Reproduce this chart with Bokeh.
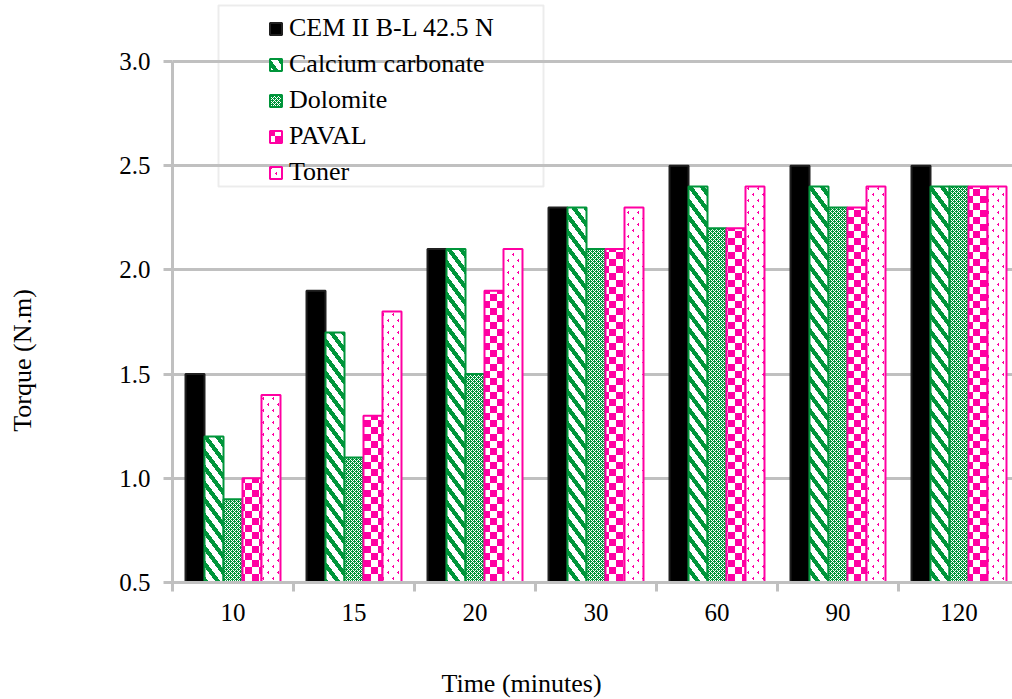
import base64
import struct
import zlib
import numpy as np
from bokeh.plotting import figure
from bokeh.models import (Range1d, FixedTicker, PrintfTickFormatter, Legend, LegendItem,
                          Label, BoxAnnotation, ImageURLTexture, Grid)
from bokeh.core.properties import value
from bokeh.embed import file_html
from bokeh.resources import INLINE

# ---- data ----
times = ["10", "15", "20", "30", "60", "90", "120"]
cem = [1.5, 1.9, 2.1, 2.3, 2.5, 2.5, 2.5]
calcium = [1.2, 1.7, 2.1, 2.3, 2.4, 2.4, 2.4]
dolomite = [0.9, 1.1, 1.5, 2.1, 2.2, 2.3, 2.4]
paval = [1.0, 1.3, 1.9, 2.1, 2.2, 2.3, 2.4]
toner = [1.4, 1.8, 2.1, 2.3, 2.4, 2.4, 2.4]
series_names = ["CEM II B-L 42.5 N", "Calcium carbonate", "Dolomite", "PAVAL", "Toner"]
series_values = [cem, calcium, dolomite, paval, toner]
y_ticks = [0.5, 1.0, 1.5, 2.0, 2.5, 3.0]

GREEN = "#00953a"
MAGENTA = "#ff00a2"
GRID = "#c0c0c0"
FONT = "Liberation Serif"


def png_url(rows):
    """rows: list of lists of (r, g, b) tuples -> data URL of an RGB PNG tile"""
    h, w = len(rows), len(rows[0])
    raw = b"".join(b"\x00" + bytes([c for px in row for c in px]) for row in rows)

    def chunk(t, d):
        return struct.pack(">I", len(d)) + t + d + struct.pack(">I", zlib.crc32(t + d) & 0xFFFFFFFF)

    png = (b"\x89PNG\r\n\x1a\n" + chunk(b"IHDR", struct.pack(">IIBBBBB", w, h, 8, 2, 0, 0, 0))
           + chunk(b"IDAT", zlib.compress(raw)) + chunk(b"IEND", b""))
    return "data:image/png;base64," + base64.b64encode(png).decode()


WH = (255, 255, 255)
MG = (255, 0, 162)
GR = (0, 149, 58)

# pattern tiles (texture only, not data)
stripe_tile = [[GR if (i - round(j * 16 / 12)) % 16 < 7 else WH for j in range(12)] for i in range(16)]
small_tile = [[GR if (i + j) % 2 == 0 else WH for j in range(4)] for i in range(4)]
small_tile[1][2] = GR
small_tile[3][0] = GR
checker_tile = [[MG if ((i // 7) + (j // 7)) % 2 == 0 else WH for j in range(14)] for i in range(14)]
dot_tile = [[WH for j in range(10)] for i in range(12)]
for (i, j) in [(1, 3), (2, 2), (3, 3), (2, 3), (7, 8), (8, 7), (9, 8), (8, 8)]:
    dot_tile[i][j] = MG

tex = {
    "stripes": ImageURLTexture(url=png_url(stripe_tile)),
    "fine": ImageURLTexture(url=png_url(small_tile)),
    "checker": ImageURLTexture(url=png_url(checker_tile)),
    "dots": ImageURLTexture(url=png_url(dot_tile)),
}

styles = [
    dict(fill_color="black", line_color="#202020"),
    dict(fill_color="white", line_color=GREEN, hatch_pattern=value("stripes"),
         hatch_extra={"stripes": tex["stripes"]}),
    dict(fill_color="white", line_color=GREEN, hatch_pattern=value("fine"),
         hatch_extra={"fine": tex["fine"]}),
    dict(fill_color="white", line_color=MAGENTA, hatch_pattern=value("checker"),
         hatch_extra={"checker": tex["checker"]}),
    dict(fill_color="white", line_color=MAGENTA, hatch_pattern=value("dots"),
         hatch_extra={"dots": tex["dots"]}),
]

# ---- geometry: the frame covers the whole canvas; axes sit at fixed data locations ----
W, H = 1012, 699
PX_X = 121.0            # pixels per category
PX_Y = 521.0 / 2.5      # pixels per torque unit
LEFT, BOTTOM = 172, 117  # pixel position of the axes
x0 = -LEFT / PX_X
x1 = (W - LEFT) / PX_X
y0 = 0.5 - BOTTOM / PX_Y
y1 = 3.0 + 61 / PX_Y

p = figure(width=W, height=H, output_backend="svg", toolbar_location=None,
           x_range=Range1d(x0, x1), y_range=Range1d(y0, y1),
           min_border=0)
p.outline_line_color = None
p.background_fill_color = "white"

# horizontal grid lines, only across the plotting area
if "cross_bounds" in Grid.properties():
    p.ygrid.ticker = FixedTicker(ticks=y_ticks)
    p.ygrid.cross_bounds = (0, len(times))
    p.ygrid.grid_line_color = GRID
    p.ygrid.grid_line_width = 3
else:
    p.ygrid.grid_line_color = None
    p.segment(x0=0, x1=len(times), y0=y_ticks, y1=y_ticks, line_color=GRID, line_width=3)
p.xgrid.grid_line_color = None

bar_w = 0.157
centers = np.arange(len(times)) + 0.5
renderers = []
for k, (name, vals, st) in enumerate(zip(series_names, series_values, styles)):
    x = centers + (k - 2) * bar_w
    r = p.vbar(x=x, top=vals, bottom=0.5, width=bar_w, line_width=2, **st)
    renderers.append(r)

# axes
xa = p.xaxis[0]
xa.fixed_location = 0.5
xa.bounds = (0, len(times))
xa.ticker = FixedTicker(ticks=list(centers), minor_ticks=list(range(0, len(times) + 1)))
xa.major_label_overrides = {float(c): t for c, t in zip(centers, times)}
xa.major_tick_line_color = None
xa.minor_tick_in = 0
xa.minor_tick_out = 9
xa.minor_tick_line_color = GRID
xa.minor_tick_line_width = 3
xa.axis_line_color = GRID
xa.axis_line_width = 3
xa.major_label_text_font = FONT
xa.major_label_text_font_size = "25px"
xa.major_label_text_color = "black"
xa.major_label_standoff = 12

ya = p.yaxis[0]
ya.fixed_location = 0
ya.bounds = (0.5, 3.0)
ya.ticker = FixedTicker(ticks=y_ticks)
ya.formatter = PrintfTickFormatter(format="%.1f")
ya.minor_tick_line_color = None
ya.major_tick_in = 0
ya.major_tick_out = 9
ya.major_tick_line_color = GRID
ya.major_tick_line_width = 3
ya.axis_line_color = GRID
ya.axis_line_width = 3
ya.major_label_text_font = FONT
ya.major_label_text_font_size = "25px"
ya.major_label_text_color = "black"
ya.major_label_standoff = 13

# axis titles (placed like the original, not centred on the plot area)
p.add_layout(Label(x=22, y=H - 360, x_units="screen", y_units="screen", text="Torque (N.m)",
                   angle=np.pi / 2, text_align="center", text_baseline="middle",
                   text_font=FONT, text_font_size="26px", text_color="black"))
p.add_layout(Label(x=521, y=H - 683, x_units="screen", y_units="screen", text="Time (minutes)",
                   text_align="center", text_baseline="middle",
                   text_font=FONT, text_font_size="26px", text_color="black"))

# legend
items = [LegendItem(label=n, renderers=[r]) for n, r in zip(series_names, renderers)]
legend = Legend(items=items, location=(268, 395 + BOTTOM), padding=5, border_line_color=None,
                background_fill_alpha=0, glyph_width=15, glyph_height=15, label_standoff=6,
                spacing=6, label_text_font=FONT, label_text_font_size="26px",
                label_text_color="black", margin=0)
p.add_layout(legend)
p.add_layout(BoxAnnotation(left=218, right=543, top=H - 5, bottom=H - 186, left_units="screen",
                           right_units="screen", top_units="screen", bottom_units="screen",
                           fill_alpha=0, line_color=GRID, line_width=2))

open("out.html", "w").write(file_html(p, INLINE))
